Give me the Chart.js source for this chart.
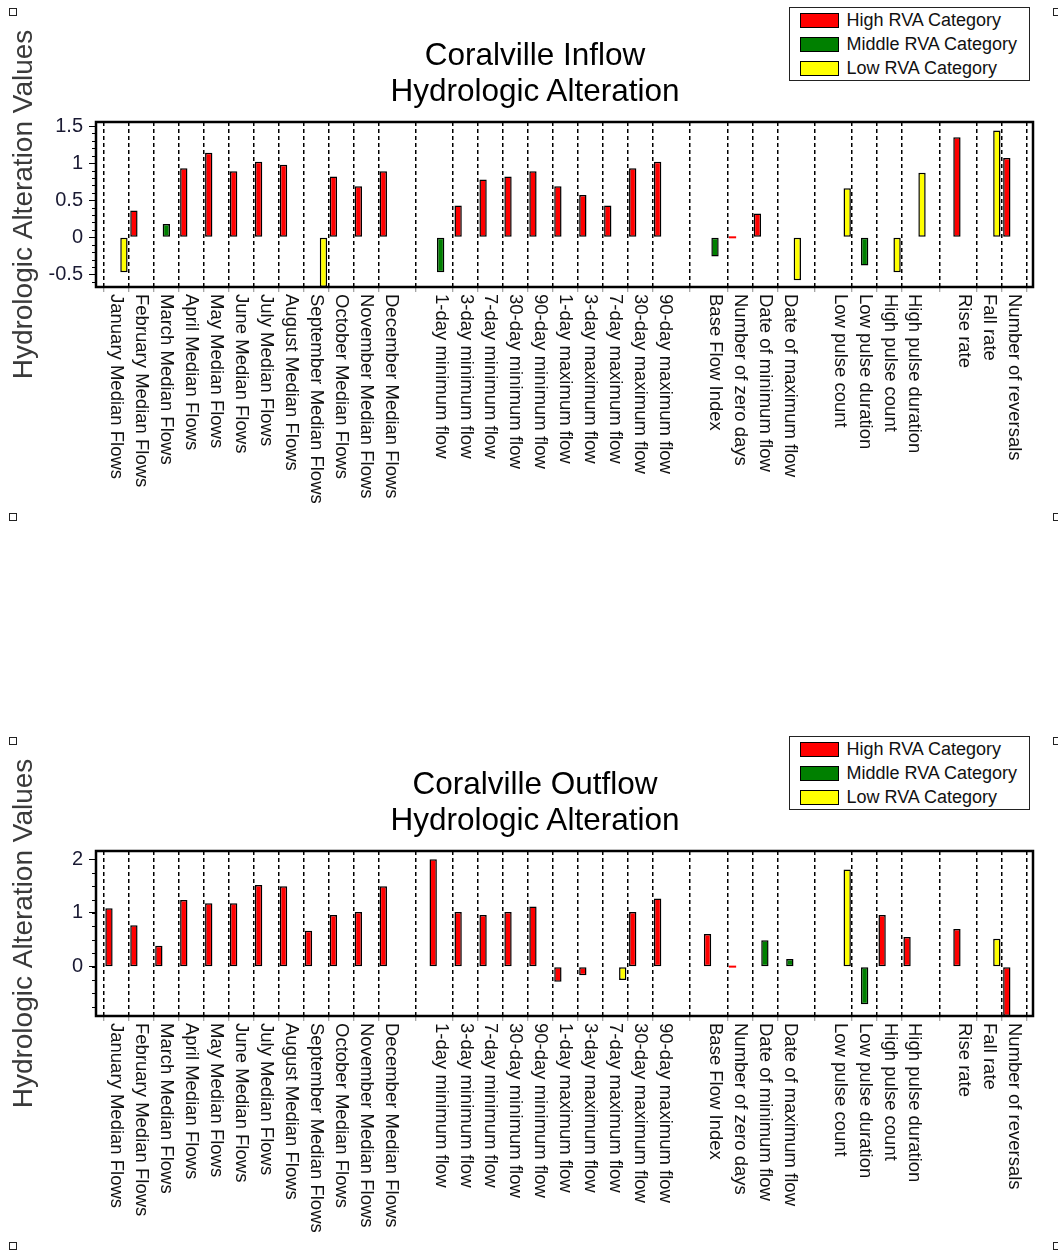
<!DOCTYPE html>
<html>
<head>
<meta charset="utf-8">
<title>Coralville Hydrologic Alteration</title>
<script src="https://cdn.jsdelivr.net/npm/chart.js@4.4.0/dist/chart.umd.min.js"></script>
<style>
  html, body { margin: 0; padding: 0; background: #fff; }
  body { width: 1058px; height: 1255px; position: relative; overflow: hidden;
         font-family: "Liberation Sans", Arial, sans-serif; }
  .panel { position: absolute; left: 0; width: 1058px; height: 520px; }
  .panel canvas { position: absolute; left: 0; top: 0; }
  .title { position: absolute; left: 0; top: 35.6px; width: 1070px; text-align: center;
           font-size: 31.5px; line-height: 36px; color: #000; }
  .legend { position: absolute; left: 789px; top: 7px; width: 241px; height: 74px;
            box-sizing: border-box; border: 1.5px solid #222; background: #fff; }
  .legend .row { position: absolute; left: 9.5px; height: 24px; line-height: 24px;
                 font-size: 18px; color: #111; white-space: nowrap; }
  .legend .swatch { display: inline-block; width: 39px; height: 15px; box-sizing: border-box;
                    border: 1.5px solid #000; vertical-align: middle; margin-right: 8px;
                    position: relative; top: -1px; }
  .marker { position: absolute; width: 8px; height: 8px; box-sizing: border-box;
            border: 1.5px solid #222; background: #fff; }
</style>
</head>
<body>

<div class="panel" id="panel-in" style="top:0">
  <canvas id="inflow" width="1058" height="520"></canvas>
  <div class="title">Coralville Inflow<br>Hydrologic Alteration</div>
</div>

<div class="panel" id="panel-out" style="top:729px">
  <canvas id="outflow" width="1058" height="520"></canvas>
  <div class="title">Coralville Outflow<br>Hydrologic Alteration</div>
</div>

<script>
// Indicator names; empty strings are the spacer columns between groups
const categories = [
  'January Median Flows', 'February Median Flows', 'March Median Flows', 'April Median Flows',
  'May Median Flows', 'June Median Flows', 'July Median Flows', 'August Median Flows',
  'September Median Flows', 'October Median Flows', 'November Median Flows', 'December Median Flows',
  '',
  '1-day minimum flow', '3-day minimum flow', '7-day minimum flow', '30-day minimum flow',
  '90-day minimum flow', '1-day maximum flow', '3-day maximum flow', '7-day maximum flow',
  '30-day maximum flow', '90-day maximum flow',
  '',
  'Base Flow Index', 'Number of zero days', 'Date of minimum flow', 'Date of maximum flow',
  '',
  'Low pulse count', 'Low pulse duration', 'High pulse count', 'High pulse duration',
  '',
  'Rise rate', 'Fall rate', 'Number of reversals'
];

const seriesNames = ['High RVA Category', 'Middle RVA Category', 'Low RVA Category'];

// Inflow alteration values by RVA category (null = not in that category)
const inflowHigh = [
  null, 0.36, null, 0.93, 1.14, 0.89, 1.02, 0.98, null, 0.82, 0.69, 0.89,
  null,
  null, 0.43, 0.78, 0.82, 0.89, 0.69, 0.57, 0.43, 0.93, 1.02,
  null,
  null, 0, 0.32, null,
  null,
  null, null, null, null,
  null,
  1.35, null, 1.07
];
const inflowMiddle = [
  null, null, 0.18, null, null, null, null, null, null, null, null, null,
  null,
  -0.47, null, null, null, null, null, null, null, null, null,
  null,
  -0.26, null, null, null,
  null,
  null, -0.38, null, null,
  null,
  null, null, null
];
const inflowLow = [
  -0.47, null, null, null, null, null, null, null, -0.67, null, null, null,
  null,
  null, null, null, null, null, null, null, null, null, null,
  null,
  null, null, null, -0.58,
  null,
  0.66, null, -0.47, 0.87,
  null,
  null, 1.44, null
];

// Outflow alteration values by RVA category
const outflowHigh = [
  1.09, 0.77, 0.39, 1.24, 1.18, 1.18, 1.52, 1.50, 0.67, 0.96, 1.02, 1.50,
  null,
  2.0, 1.02, 0.96, 1.02, 1.12, -0.28, -0.16, null, 1.02, 1.27,
  null,
  0.61, 0, null, null,
  null,
  null, null, 0.96, 0.55,
  null,
  0.70, null, -0.92
];
const outflowMiddle = [
  null, null, null, null, null, null, null, null, null, null, null, null,
  null,
  null, null, null, null, null, null, null, null, null, null,
  null,
  null, null, 0.49, 0.14,
  null,
  null, -0.70, null, null,
  null,
  null, null, null
];
const outflowLow = [
  null, null, null, null, null, null, null, null, null, null, null, null,
  null,
  null, null, null, null, null, null, null, -0.25, null, null,
  null,
  null, null, null, null,
  null,
  1.81, null, null, null,
  null,
  null, 0.52, null
];

// Value axis labels and limits
const inflowTicks = [-0.5, 0, 0.5, 1, 1.5];
const outflowTicks = [0, 1, 2];
const inflowRange = [-0.67, 1.555];
const outflowRange = [-0.92, 2.155];

const colors = { high: '#ff0000', middle: '#008000', low: '#ffff00' };
const FONT = '"Liberation Sans", Arial, sans-serif';

Chart.defaults.font.family = FONT;

function toPoints(values) {
  return values
    .map((y, x) => (y === null ? null : { x, y }))
    .filter(Boolean);
}

// dashed separators: between neighbouring indicators, and through the middle of each spacer
function separatorPositions(labels) {
  const out = [];
  labels.forEach((name, i) => {
    if (name === '') out.push(i);
    else if (i === 0 || labels[i - 1] !== '') out.push(i - 0.5);
  });
  out.push(labels.length - 0.5);
  return out;
}

function framePlugin(minorStep) {
  return {
    id: 'frame',
    afterDraw(chart) {
      const { ctx, chartArea: a, scales: { x, y } } = chart;
      ctx.save();

      // small ticks between the labelled ones
      ctx.strokeStyle = '#000';
      ctx.lineWidth = 1;
      ctx.beginPath();
      const first = Math.ceil(y.min / minorStep - 1e-6);
      for (let k = first; k * minorStep <= y.max + 1e-9; k++) {
        const py = Math.round(y.getPixelForValue(k * minorStep)) + 0.5;
        ctx.moveTo(a.left - 4, py);
        ctx.lineTo(a.left, py);
      }
      ctx.stroke();

      // box around the plot
      ctx.lineWidth = 2.5;
      ctx.strokeRect(a.left, a.top, a.right - a.left, a.bottom - a.top);

      // indicator names, written top to bottom
      ctx.fillStyle = '#111';
      ctx.font = '18.5px ' + FONT;
      ctx.textAlign = 'left';
      ctx.textBaseline = 'middle';
      categories.forEach((name, i) => {
        if (!name) return;
        ctx.save();
        ctx.translate(x.getPixelForValue(i), a.bottom + 7);
        ctx.rotate(Math.PI / 2);
        ctx.fillText(name, 0, 0);
        ctx.restore();
      });
      ctx.restore();
    }
  };
}

function createDataset(label, values, color) {
  return {
    label,
    data: toPoints(values),
    backgroundColor: color,
    borderColor: '#000',
    // a zero value shows as a thin coloured dash, without outline
    borderWidth: c => (c.raw && c.raw.y === 0 ? 0 : 1.5),
    borderSkipped: false,
    minBarLength: 2,
    categoryPercentage: 0.9,
    barPercentage: 0.98
  };
}

function createChart(canvasId, high, middle, low, range, yTicks, minorStep) {
  const ctx = document.getElementById(canvasId).getContext('2d');
  return new Chart(ctx, {
    type: 'bar',
    data: {
      datasets: [
        createDataset(seriesNames[0], high, colors.high),
        createDataset(seriesNames[1], middle, colors.middle),
        createDataset(seriesNames[2], low, colors.low)
      ]
    },
    options: {
      responsive: false,
      animation: false,
      devicePixelRatio: 1,
      layout: { padding: { top: 122, right: 25, bottom: 0, left: 0 } },
      plugins: {
        legend: { display: false },
        title: { display: false },
        tooltip: { enabled: false }
      },
      scales: {
        x: {
          type: 'linear',
          offset: false,
          min: -0.82,
          max: categories.length - 0.25,
          afterBuildTicks: s => { s.ticks = separatorPositions(categories).map(value => ({ value })); },
          afterFit: s => { s.height = 233; },
          ticks: { display: false },
          grid: {
            offset: false,
            z: 1,
            color: '#000',
            lineWidth: 1.5,
            drawTicks: true,
            tickLength: 5,
            tickColor: '#888',
            tickWidth: 1,
            tickBorderDash: []
          },
          border: { display: false, dash: [4, 3] }
        },
        y: {
          min: range[0],
          max: range[1],
          afterBuildTicks: s => { s.ticks = yTicks.map(value => ({ value })); },
          afterFit: s => { s.width = 96; },
          ticks: {
            padding: 6,
            color: '#1a1a33',
            font: { size: 20 },
            callback: v => String(v)
          },
          grid: {
            drawOnChartArea: false,
            drawTicks: true,
            tickLength: 7,
            tickColor: '#000',
            tickWidth: 1
          },
          border: { display: false },
          title: {
            display: true,
            text: 'Hydrologic Alteration Values',
            color: '#3a3a3a',
            font: { size: 28 },
            padding: { top: 7, bottom: 0 }
          }
        }
      }
    },
    plugins: [framePlugin(minorStep)]
  });
}

function addLegend(panelId) {
  const panel = document.getElementById(panelId);
  const box = document.createElement('div');
  box.className = 'legend';
  [colors.high, colors.middle, colors.low].forEach((color, i) => {
    const row = document.createElement('div');
    row.className = 'row';
    row.style.top = (i * 24) + 'px';
    const swatch = document.createElement('span');
    swatch.className = 'swatch';
    swatch.style.background = color;
    row.appendChild(swatch);
    row.appendChild(document.createTextNode(seriesNames[i]));
    box.appendChild(row);
  });
  panel.appendChild(box);
}

// small corner handles around each panel
function addMarkers(panelId) {
  const panel = document.getElementById(panelId);
  [[9, 8], [1053, 8], [9, 513], [1053, 513]].forEach(([l, t]) => {
    const m = document.createElement('div');
    m.className = 'marker';
    m.style.left = l + 'px';
    m.style.top = t + 'px';
    panel.appendChild(m);
  });
}

createChart('inflow', inflowHigh, inflowMiddle, inflowLow, inflowRange, inflowTicks, 0.1);
createChart('outflow', outflowHigh, outflowMiddle, outflowLow, outflowRange, outflowTicks, 0.25);

['panel-in', 'panel-out'].forEach(id => {
  addLegend(id);
  addMarkers(id);
});
</script>
</body>
</html>
